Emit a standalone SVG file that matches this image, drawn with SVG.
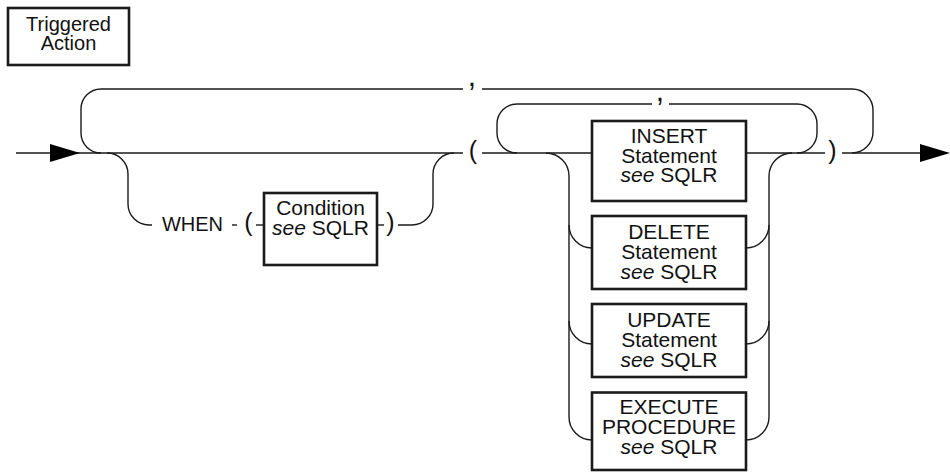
<svg xmlns="http://www.w3.org/2000/svg" xmlns:xlink="http://www.w3.org/1999/xlink" width="950" height="472" viewBox="0 0 950 472">
<style>
  .ln { fill: none; stroke: #1a1a1a; stroke-width: 1.4; }
  .box { fill: #ffffff; stroke: #1a1a1a; stroke-width: 2.6; }
  .t { font-family: "Liberation Sans", Arial, sans-serif; font-size: 21px; fill: #111; text-anchor: middle; }
  .ts { font-family: "Liberation Sans", Arial, sans-serif; font-size: 20px; fill: #111; text-anchor: middle; }
  .p { font-family: "Liberation Sans", Arial, sans-serif; font-size: 25px; fill: #111; text-anchor: middle; }
  .c { font-family: "Liberation Sans", Arial, sans-serif; font-size: 30px; fill: #111; text-anchor: middle; }
  .it { font-style: italic; }
  .ah { fill: #000; stroke: none; }
</style>
<defs>
  <path id="arrow" d="M0,-9 L30,0 L0,9 Z"/>
</defs>
<rect width="950" height="472" fill="#ffffff"/>

<g id="title">
  <rect class="box" x="8" y="8" width="121" height="57" stroke-width="2.3"/>
  <text class="ts" x="68.5" y="31">Triggered<tspan x="68.5" dy="19">Action</tspan></text>
</g>

<g id="connectors">
  <!-- main line -->
  <path class="ln" d="M16,153 H463"/>
  <path class="ln" d="M482,153 H592"/>
  <path class="ln" d="M746,153 H825"/>
  <path class="ln" d="M842,153 H925"/>
  <use href="#arrow" xlink:href="#arrow" class="ah" x="50" y="153"/>
  <use href="#arrow" xlink:href="#arrow" class="ah" x="920" y="153"/>

  <!-- outer repeat loop -->
  <path class="ln" d="M101,153 A20,20 0 0 1 81,133 V109 A20,20 0 0 1 101,89 H463"/>
  <path class="ln" d="M482,89 H852 A21,21 0 0 1 873,110 V132 A21,21 0 0 1 852,153"/>

  <!-- WHEN branch -->
  <path class="ln" d="M107,153 A21,21 0 0 1 128,174 V204 A21,21 0 0 0 149,225 H152"/>
  <path class="ln" d="M232,225 H237"/>
  <path class="ln" d="M256,225 H264"/>
  <path class="ln" d="M377,225 H384"/>
  <path class="ln" d="M398,225 H412 A21,21 0 0 0 433,204 V174 A21,21 0 0 1 454,153"/>

  <!-- inner repeat loop -->
  <path class="ln" d="M517,153 A20,20 0 0 1 497,133 V124 A20,20 0 0 1 517,104 H652"/>
  <path class="ln" d="M669,104 H797 A20,20 0 0 1 817,124 V133 A20,20 0 0 1 797,153"/>

  <!-- statement alternatives, left rail -->
  <path class="ln" d="M546,153 A23,23 0 0 1 569,176 V417 A23,23 0 0 0 592,440"/>
  <path class="ln" d="M569,225 A23,23 0 0 0 592,248"/>
  <path class="ln" d="M569,321 A23,23 0 0 0 592,344"/>
  <!-- right rail -->
  <path class="ln" d="M792,153 A23,23 0 0 0 769,176 V417 A23,23 0 0 1 746,440"/>
  <path class="ln" d="M769,225 A23,23 0 0 1 746,248"/>
  <path class="ln" d="M769,321 A23,23 0 0 1 746,344"/>

  <!-- punctuation on the lines -->
  <text class="c" x="472" y="86">,</text>
  <text class="c" x="660" y="101">,</text>
  <text class="p" x="473" y="159">(</text>
  <text class="p" x="832.5" y="159">)</text>
  <text class="p" x="248.5" y="231">(</text>
  <text class="p" x="390.5" y="231">)</text>
</g>

<g id="when">
  <text class="ts" x="192.5" y="231">WHEN</text>
</g>

<g id="condition">
  <rect class="box" x="264" y="193" width="113" height="72"/>
  <text class="t" x="320.5" y="215">Condition<tspan x="320.5" dy="20"><tspan class="it">see</tspan> SQLR</tspan></text>
</g>

<g id="insert">
  <rect class="box" x="592" y="121" width="154" height="80"/>
  <text class="t" x="669" y="143">INSERT<tspan x="669" dy="20">Statement</tspan><tspan x="669" dy="19"><tspan class="it">see</tspan> SQLR</tspan></text>
</g>

<g id="delete">
  <rect class="box" x="592" y="216" width="154" height="73"/>
  <text class="t" x="669" y="238.5">DELETE<tspan x="669" dy="20.5">Statement</tspan><tspan x="669" dy="20"><tspan class="it">see</tspan> SQLR</tspan></text>
</g>

<g id="update">
  <rect class="box" x="592" y="304" width="154" height="73"/>
  <text class="t" x="669" y="327">UPDATE<tspan x="669" dy="20">Statement</tspan><tspan x="669" dy="20"><tspan class="it">see</tspan> SQLR</tspan></text>
</g>

<g id="execute">
  <rect class="box" x="592" y="392.5" width="154" height="77.5"/>
  <text class="t" x="669" y="413.5">EXECUTE<tspan x="669" dy="20">PROCEDURE</tspan><tspan x="669" dy="20.5"><tspan class="it">see</tspan> SQLR</tspan></text>
</g>
</svg>
